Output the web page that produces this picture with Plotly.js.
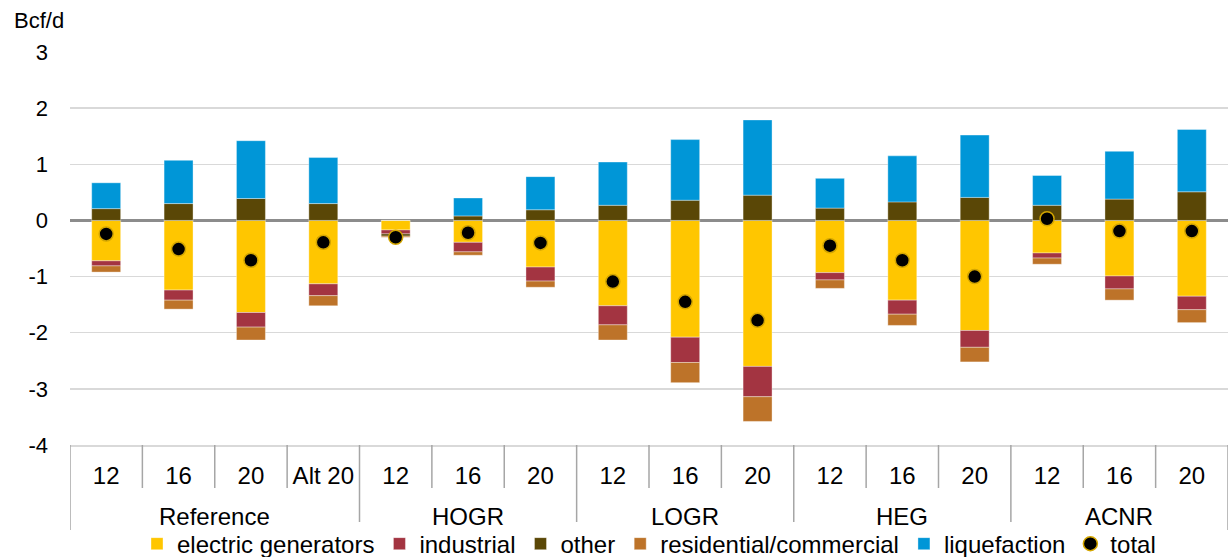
<!DOCTYPE html>
<html>
<head>
<meta charset="utf-8">
<script src="https://cdn.plot.ly/plotly-3.0.1.min.js"></script>
<style>html,body{margin:0;padding:0;background:#fff;}#chart{width:1230px;height:557px;}</style>
</head>
<body>
<div id="chart"></div>
<script>
const groups = ["Reference","Reference","Reference","Reference","HOGR","HOGR","HOGR","LOGR","LOGR","LOGR","HEG","HEG","HEG","ACNR","ACNR","ACNR"];
const cases = ["12","16","20","Alt 20","12","16","20","12","16","20","12","16","20","12","16","20"];
const yTickVals = [-4,-3,-2,-1,0,1,2,3];
const yTickText = ["-4","-3","-2","-1","0","1","2","3"];

const electric = [-0.72,-1.24,-1.64,-1.13,-0.17,-0.39,-0.83,-1.52,-2.08,-2.60,-0.93,-1.42,-1.96,-0.58,-0.99,-1.35];
const industrial = [-0.09,-0.18,-0.26,-0.21,-0.07,-0.17,-0.25,-0.34,-0.45,-0.54,-0.13,-0.25,-0.30,-0.09,-0.23,-0.24];
const other = [0.21,0.30,0.39,0.30,-0.04,0.08,0.19,0.27,0.36,0.45,0.22,0.33,0.41,0.27,0.38,0.51];
const residential = [-0.11,-0.16,-0.23,-0.18,-0.02,-0.06,-0.11,-0.27,-0.36,-0.44,-0.15,-0.20,-0.26,-0.11,-0.20,-0.23];
const liquefaction = [0.46,0.77,1.03,0.82,0,0.32,0.59,0.77,1.08,1.34,0.53,0.82,1.11,0.53,0.85,1.11];
const total = [-0.24,-0.51,-0.71,-0.39,-0.30,-0.22,-0.40,-1.09,-1.45,-1.78,-0.45,-0.71,-1.00,0.03,-0.19,-0.19];

const idx = cases.map((c,i)=>i);
const barLine = {color:'rgba(255,255,255,0.6)', width:0.6};
function bar(name, y, color){
  return {type:'bar', name:name, x:idx, y:y, marker:{color:color, line:barLine}};
}
const data = [
  bar('electric generators', electric, '#FFC600'),
  bar('industrial', industrial, '#A33441'),
  bar('other', other, '#5A4706'),
  bar('residential/commercial', residential, '#BD7329'),
  bar('liquefaction', liquefaction, '#0096D7'),
  {type:'scatter', mode:'markers', name:'total', x:idx, y:total,
   marker:{color:'#000000', size:14, line:{color:'#D4A600', width:1.5}}}
];

// group boundaries / labels derived from the groups array
const shapes = [];
const annotations = [];
const divColor = '#a6a6a6';
let start = 0;
for (let i = 0; i <= groups.length; i++) {
  if (i === groups.length || (i > 0 && groups[i] !== groups[i-1])) {
    annotations.push({text:groups[start], xref:'x', yref:'paper', x:(start + i - 1)/2, y:-0.183,
      xanchor:'center', yanchor:'middle', showarrow:false,
      font:{family:'"Liberation Sans", Arial, sans-serif', size:24, color:'#000'}});
    start = i;
  }
  const isGroupEdge = (i === 0 || i === groups.length || groups[i] !== groups[i-1]);
  shapes.push({type:'line', xref:'x', yref:'paper', x0:i-0.5, x1:i-0.5, y0:0, y1:isGroupEdge ? -0.2163 : -0.1094,
    line:{color:divColor, width:1.5}});
}
annotations.push({text:'Bcf/d', xref:'paper', yref:'paper', x:-0.0501, y:1.0814, xanchor:'left', yanchor:'middle',
  showarrow:false, font:{family:'"Liberation Sans", Arial, sans-serif', size:22, color:'#000'}});

const xfont = {family:'"Liberation Sans", Arial, sans-serif', size:24, color:'#000'};
const yfont = {family:'"Liberation Sans", Arial, sans-serif', size:22, color:'#000'};
const layout = {
  width:1230, height:557,
  margin:{l:70, r:2, t:52, b:112, autoexpand:false},
  paper_bgcolor:'#fff', plot_bgcolor:'#fff',
  font:xfont,
  barmode:'relative',
  bargap:0.6,
  showlegend:true,
  legend:{orientation:'h', x:0.5, xanchor:'center', y:-0.252, yanchor:'middle',
          font:xfont, itemwidth:30, tracegroupgap:0},
  xaxis:{type:'linear', range:[-0.5,15.5], tickvals:idx, ticktext:cases, ticks:'',
         showline:true, linecolor:'#d9d9d9', linewidth:1.5, showgrid:false, zeroline:false,
         tickfont:xfont, ticklabelstandoff:9, fixedrange:true},
  yaxis:{range:[-4,3], tickvals:yTickVals, ticktext:yTickText, showgrid:true, gridcolor:'#d9d9d9', gridwidth:1.5,
         zeroline:true, zerolinecolor:'#8c8c8c', zerolinewidth:2.5, ticks:'', tickfont:yfont,
         ticklabelstandoff:21, fixedrange:true},
  shapes:shapes,
  annotations:annotations
};
Plotly.newPlot('chart', data, layout, {displayModeBar:false, staticPlot:true});
</script>
</body>
</html>
